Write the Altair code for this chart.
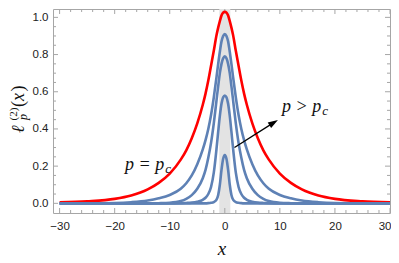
import altair as alt
import pandas as pd

# ---- data ----
x_vals = [-30, -25, -20, -17, -14, -12, -10, -8, -7, -6, -5, -4, -3.5, -3, -2.5, -2, -1.5, -1.2, -0.9, -0.6, -0.3, 0,
          0.3, 0.6, 0.9, 1.2, 1.5, 2, 2.5, 3, 3.5, 4, 5, 6, 7, 8, 10, 12, 14, 17, 20, 25, 30]
red_pc = [0.005, 0.011, 0.024, 0.042, 0.075, 0.11, 0.16, 0.235, 0.285, 0.35, 0.43, 0.53, 0.59, 0.66, 0.74, 0.82, 0.905, 0.945, 0.98, 1.01, 1.025, 1.03,
          1.025, 1.01, 0.98, 0.945, 0.905, 0.82, 0.74, 0.66, 0.59, 0.53, 0.43, 0.35, 0.285, 0.235, 0.16, 0.11, 0.075, 0.042, 0.024, 0.011, 0.005]
blue_1 = [0.0, 0.0003, 0.002, 0.006, 0.015, 0.027, 0.045, 0.078, 0.108, 0.15, 0.21, 0.29, 0.34, 0.40, 0.475, 0.57, 0.68, 0.75, 0.815, 0.87, 0.90, 0.91,
          0.90, 0.87, 0.815, 0.75, 0.68, 0.57, 0.475, 0.40, 0.34, 0.29, 0.21, 0.15, 0.108, 0.078, 0.045, 0.027, 0.015, 0.006, 0.002, 0.0003, 0.0]
blue_2 = [0, 0, 0, 0, 0, 0.0008, 0.003, 0.012, 0.024, 0.044, 0.078, 0.135, 0.18, 0.245, 0.325, 0.43, 0.555, 0.63, 0.70, 0.75, 0.78, 0.79,
          0.78, 0.75, 0.70, 0.63, 0.555, 0.43, 0.325, 0.245, 0.18, 0.135, 0.078, 0.044, 0.024, 0.012, 0.003, 0.0008, 0, 0, 0, 0, 0]
blue_3 = [0, 0, 0, 0, 0, 0, 0, 0.001, 0.002, 0.004, 0.009, 0.019, 0.03, 0.05, 0.088, 0.165, 0.295, 0.385, 0.47, 0.535, 0.57, 0.58,
          0.57, 0.535, 0.47, 0.385, 0.295, 0.165, 0.088, 0.05, 0.03, 0.019, 0.009, 0.004, 0.002, 0.001, 0, 0, 0, 0, 0, 0, 0]
blue_4 = [0, 0, 0, 0, 0, 0, 0, 0, 0, 0, 0, 0, 0, 0.001, 0.003, 0.007, 0.02, 0.045, 0.10, 0.18, 0.24, 0.26,
          0.24, 0.18, 0.10, 0.045, 0.02, 0.007, 0.003, 0.001, 0, 0, 0, 0, 0, 0, 0, 0, 0, 0, 0, 0, 0]

band_lo = [-1.0]
band_hi = [1.0]

x_major = [-30, -20, -10, 0, 10, 20, 30]
x_minor = [-28, -26, -24, -22, -18, -16, -14, -12, -8, -6, -4, -2, 2, 4, 6, 8, 12, 14, 16, 18, 22, 24, 26, 28]
y_major = [0.0, 0.2, 0.4, 0.6, 0.8, 1.0]
y_minor = [0.05, 0.1, 0.15, 0.25, 0.3, 0.35, 0.45, 0.5, 0.55, 0.65, 0.7, 0.75, 0.85, 0.9, 0.95]

arrow_x = [1.76, 8.875]
arrow_y = [0.30, 0.434]
head_x = [8.875]
head_y = [0.434]

ann_main = ["p = p", "p > p"]
ann_sub = ["c", "c"]
ann_x = [-11.0, 17.5]
ann_y = [0.18, 0.49]
ann_sub_x = [-10.8, 17.7]
ann_sub_y = [0.165, 0.475]

# ---- layout ----
W, H = 337, 204
FRAME = "#a6a6a6"
RED = "#ff0000"
BLUE = "#5e81b5"
SERIF = "Liberation Serif"
SANS = "Liberation Sans"

xs = alt.Scale(domain=[-31.2, 30.0], nice=False, zero=False)
ys = alt.Scale(domain=[-0.052, 1.045], nice=False, zero=False)

X_AXIS = alt.Axis(values=x_major, ticks=False, tickSize=0, domain=False, grid=False,
                  labelFont=SANS, labelFontSize=11.5, labelColor="#222", labelPadding=7,
                  labelFlush=3, labelFlushOffset=1,
                  title="x", titleFont=SERIF, titleFontStyle="italic", titleFontWeight="normal",
                  titleFontSize=19, titleColor="#111", titleY=41, titleBaseline="alphabetic")
Y_AXIS = alt.Axis(values=y_major, format=".1f", ticks=False, tickSize=0, domain=False, grid=False,
                  labelFont=SANS, labelFontSize=11.5, labelColor="#222", labelPadding=5, title=None)


def X(field):
    return alt.X(field, scale=xs, axis=X_AXIS)


def Y(field):
    return alt.Y(field, scale=ys, axis=Y_AXIS)


df_red = pd.DataFrame({"x": x_vals, "y": red_pc})
df_blue = pd.concat([
    pd.DataFrame({"x": x_vals, "y": v, "s": name})
    for name, v in [("b1", blue_1), ("b2", blue_2), ("b3", blue_3), ("b4", blue_4)]
])

band = alt.Chart(pd.DataFrame({"x": band_lo, "b": band_hi})).mark_rect(color="#e3e3e3").encode(
    x=X("x:Q"), x2="b:Q")

red_line = alt.Chart(df_red).mark_line(color=RED, strokeWidth=2.6, interpolate="monotone", clip=True).encode(
    x=X("x:Q"), y=Y("y:Q"))

blue_lines = alt.Chart(df_blue).mark_line(color=BLUE, strokeWidth=2.6, interpolate="monotone", clip=True).encode(
    x=X("x:Q"), y=Y("y:Q"), detail="s:N")


def xticks(vals, length):
    d = pd.DataFrame({"x": vals})
    bottom = alt.Chart(d).mark_rule(color=FRAME, strokeWidth=1, clip=True).encode(
        x=X("x:Q"), y=alt.value(H), y2=alt.value(H - length))
    top = alt.Chart(d).mark_rule(color=FRAME, strokeWidth=1, clip=True).encode(
        x=X("x:Q"), y=alt.value(0), y2=alt.value(length))
    return [bottom, top]


def yticks(vals, length):
    d = pd.DataFrame({"y": vals})
    left = alt.Chart(d).mark_rule(color=FRAME, strokeWidth=1).encode(
        y=Y("y:Q"), x=alt.value(0), x2=alt.value(length))
    right = alt.Chart(d).mark_rule(color=FRAME, strokeWidth=1).encode(
        y=Y("y:Q"), x=alt.value(W), x2=alt.value(W - length))
    return [left, right]


ticks = xticks(x_major, 5) + xticks(x_minor, 3) + yticks(y_major, 5) + yticks(y_minor, 3)

arrow_line = alt.Chart(pd.DataFrame({"x": arrow_x, "y": arrow_y})).mark_line(color="#000", strokeWidth=1.3).encode(
    x=X("x:Q"), y=Y("y:Q"))
arrow_head = alt.Chart(pd.DataFrame({"x": head_x, "y": head_y})).mark_point(
    shape="M0,-1L0.65,1L-0.65,1Z", filled=True, color="#000", opacity=1, size=100, angle=58).encode(
    x=X("x:Q"), y=Y("y:Q"))

ann_df = pd.DataFrame({"t": ann_main, "x": ann_x, "y": ann_y})
ann = alt.Chart(ann_df).mark_text(font=SERIF, fontStyle="italic", fontSize=18, align="right",
                                  baseline="alphabetic", color="#111").encode(
    x=X("x:Q"), y=Y("y:Q"), text="t:N")
sub_df = pd.DataFrame({"t": ann_sub, "x": ann_sub_x, "y": ann_sub_y})
ann_c = alt.Chart(sub_df).mark_text(font=SERIF, fontStyle="italic", fontSize=13, align="left",
                                    baseline="alphabetic", color="#111").encode(
    x=X("x:Q"), y=Y("y:Q"), text="t:N")

# y-axis title  l_p^(2)(x), built from pieces, rotated
one = pd.DataFrame({"k": [0]})


def title_piece(txt, size, style, px, py):
    return alt.Chart(one).mark_text(text=txt, font=SERIF, fontStyle=style, fontSize=size, angle=270,
                                    align="left", baseline="alphabetic", color="#111").encode(
        x=alt.value(px), y=alt.value(py))


ytitle = [
    title_piece("ℓ", 18, "italic", -29, 124),
    title_piece("(2)", 11, "normal", -36, 111.5),
    title_piece("p", 12, "italic", -26.5, 111),
    title_piece("(", 18, "normal", -29, 98),
    title_piece("x", 18, "italic", -29, 92),
    title_piece(")", 18, "normal", -29, 82.5),
]

chart = alt.layer(band, *ticks, red_line, blue_lines, arrow_line, arrow_head, ann, ann_c, *ytitle).properties(
    width=W, height=H,
    autosize=alt.AutoSizeParams(type="none"),
    padding={"left": 45, "top": 1, "right": 1, "bottom": 46},
).configure_view(stroke=FRAME, strokeWidth=1)

chart.save("out.html", embed_options={"renderer": "svg", "actions": False})
